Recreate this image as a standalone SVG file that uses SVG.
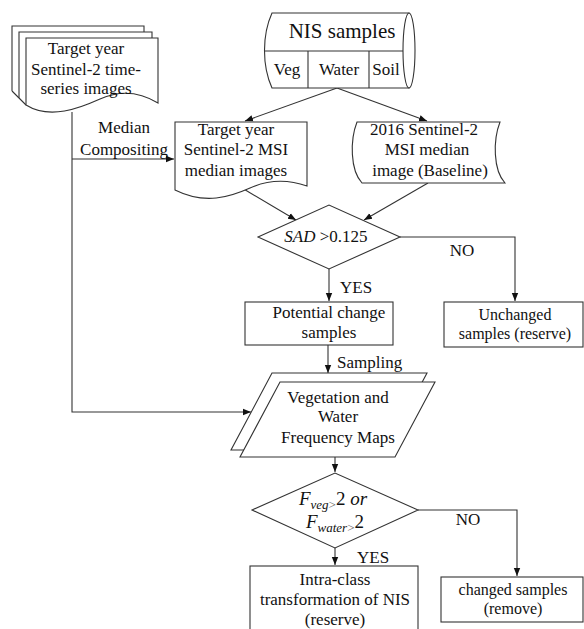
<svg xmlns="http://www.w3.org/2000/svg" width="584" height="629" viewBox="0 0 584 629">
<defs>
<style>
.s{fill:#fff;stroke:#333;stroke-width:1.1}
.l{fill:none;stroke:#333;stroke-width:1.1}
text{font-family:"Liberation Serif","Times New Roman",serif;font-size:17px;fill:#111}
.m{text-anchor:middle}
.i{font-style:italic}
.sm{font-size:16px}
</style>
<marker id="ah" markerWidth="8" markerHeight="8" refX="8" refY="4" orient="auto" markerUnits="userSpaceOnUse">
<path d="M0,0.8 L8,4 L0,7.2 Z" fill="#111"/>
</marker>
</defs>

<g id="connectors">
<path class="l" d="M337,88 L245,121" marker-end="url(#ah)"/>
<path class="l" d="M337,88 L427,121" marker-end="url(#ah)"/>
<path class="l" d="M72,112 V412 H251" marker-end="url(#ah)"/>
<path class="l" d="M72,159 H174" marker-end="url(#ah)"/>
<path class="l" d="M242,188 L296,220" marker-end="url(#ah)"/>
<path class="l" d="M428,183 L364,220" marker-end="url(#ah)"/>
<path class="l" d="M400,237 H515 V301" marker-end="url(#ah)"/>
<path class="l" d="M329,269 V301" marker-end="url(#ah)"/>
<path class="l" d="M328,345 V373" marker-end="url(#ah)"/>
<path class="l" d="M335,457 V472" marker-end="url(#ah)"/>
<path class="l" d="M418,510 H517 V576" marker-end="url(#ah)"/>
<path class="l" d="M335,548 V565" marker-end="url(#ah)"/>
<text class="m" x="124" y="133">Median</text>
<text class="m" x="124" y="155">Compositing</text>
<text class="m" x="462" y="256">NO</text>
<text x="340" y="293">YES</text>
<text x="337" y="368">Sampling</text>
<text class="m" x="468" y="525">NO</text>
<text x="357" y="563">YES</text>
</g>

<g id="timeseries">
<path class="l" d="M12,91 V26 H144 V32 M12,91 L19,98"/>
<path class="l" d="M19,98 V32 H152 V38 M19,98 L26,105"/>
<path class="s" d="M26,38 H158 V103 C140,92 120,90 100,99 C80,108 50,120 26,105 Z"/>
<text class="m" x="86" y="54">Target year</text>
<text class="m" x="86" y="75">Sentinel-2 time-</text>
<text class="m" x="86" y="94">series images</text>
</g>

<g id="nis">
<path class="s" d="M272,13 H409 V88 H272 C262,66 262,35 272,13 Z"/>
<ellipse class="s" cx="409" cy="50.5" rx="6" ry="37.5"/>
<path class="l" d="M265,51 H403 M308,51 V88 M369,51 V88"/>
<text class="m" x="342" y="38" style="font-size:21px">NIS samples</text>
<text class="m" x="287" y="75">Veg</text>
<text class="m" x="339" y="75">Water</text>
<text class="m" x="386" y="75">Soil</text>
</g>

<g id="target-median">
<path class="s" d="M175,122 H307 V186 C290,180 270,179 250,188 C230,197 205,205 175,190 Z"/>
<text class="m" x="236" y="135">Target year</text>
<text class="m" x="236" y="155">Sentinel-2 MSI</text>
<text class="m" x="236" y="176">median images</text>
</g>

<g id="baseline">
<path class="s" d="M357,122 H500 C493,140 493,170 505,183 H362 C350,170 350,140 357,122 Z"/>
<text class="m" x="424" y="135">2016 Sentinel-2</text>
<text class="m" x="427" y="155">MSI median</text>
<text class="m" x="430" y="176">image (Baseline)</text>
</g>

<g id="sad">
<polygon class="s" points="258,237 329,205 400,237 329,269"/>
<text class="m" x="326" y="242"><tspan class="i">SAD</tspan> &gt;0.125</text>
</g>

<g id="unchanged">
<rect class="s" x="444" y="302" width="139" height="45"/>
<text class="m sm" x="515" y="320">Unchanged</text>
<text class="m sm" x="515" y="339">samples (reserve)</text>
</g>

<g id="potential">
<rect class="s" x="245" y="302" width="148" height="43"/>
<text class="m" x="329" y="318">Potential change</text>
<text class="m" x="329" y="338">samples</text>
</g>

<g id="frequency-maps">
<polygon class="s" points="272,373 427,373 386,450 231,450"/>
<polygon class="s" points="280,382 435,382 395,457 240,457"/>
<text class="m" x="338" y="403">Vegetation  and</text>
<text class="m" x="338" y="422">Water</text>
<text class="m" x="338" y="443">Frequency Maps</text>
</g>

<g id="freq-test">
<polygon class="s" points="252,510 335,473 418,510 335,548"/>
<text class="m" x="333" y="505" style="font-size:19px"><tspan class="i">F</tspan><tspan class="i" dy="4" style="font-size:13px">veg</tspan><tspan style="font-size:13px;fill:#666">&gt;</tspan><tspan dy="-4">2 </tspan><tspan class="i">or</tspan></text>
<text class="m" x="335" y="528" style="font-size:19px"><tspan class="i">F</tspan><tspan class="i" dy="4" style="font-size:13px">water</tspan><tspan style="font-size:13px;fill:#666">&gt;</tspan><tspan dy="-4">2</tspan></text>
</g>

<g id="intra-class">
<rect class="s" x="250" y="566" width="168" height="70"/>
<text class="m" x="335" y="585">Intra-class</text>
<text class="m" x="335" y="605">transformation of NIS</text>
<text class="m" x="335" y="625">(reserve)</text>
</g>

<g id="changed">
<rect class="s" x="441" y="577" width="142" height="45"/>
<text class="m sm" x="513" y="595">changed samples</text>
<text class="m sm" x="513" y="614">(remove)</text>
</g>
</svg>
